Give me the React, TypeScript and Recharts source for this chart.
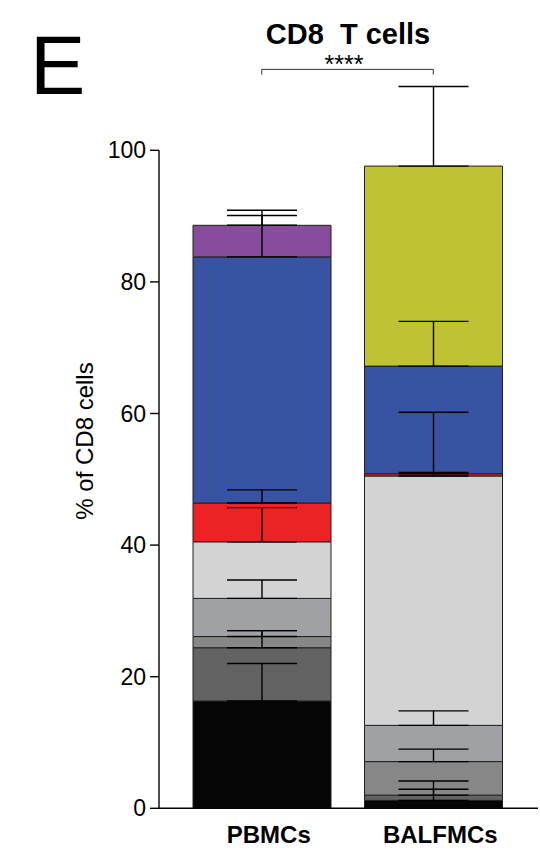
import React from 'react';
import { BarChart, Bar, XAxis, YAxis, ErrorBar, ReferenceLine } from 'recharts';

const categories = ['PBMCs', 'BALFMCs'];
const yTicks = [0, 20, 40, 60, 80, 100];

// segment heights (% of CD8 cells), bottom to top
const blackPct = [16.3, 1.2];
const darkGrayPct = [8.1, 0.8];
const midGrayPct = [1.7, 5.1];
const grayPct = [5.8, 5.5];
const lightGrayPct = [8.6, 37.9];
const redPct = [5.9, 0.35];
const bluePct = [37.4, 16.35];
const purplePct = [4.8, 0];
const olivePct = [0, 30.4];

// upper error (SD) of each segment
const blackSd = [5.7, 1.7];
const darkGraySd = [2.6, 2.15];
const midGraySd = [0.9, 1.9];
const graySd = [2.8, 2.2];
const lightGraySd = [5.2, 9.7];
const redSd = [2.0, 0.2];
const blueSd = [6.3, 6.8];
const purpleSd = [2.3, 0.3];
const oliveSd = [0, 12.1];

const series = [
  { key: 'black', color: '#050505', values: blackPct, sd: blackSd },
  { key: 'darkGray', color: '#636363', values: darkGrayPct, sd: darkGraySd },
  { key: 'midGray', color: '#878787', values: midGrayPct, sd: midGraySd },
  { key: 'gray', color: '#a0a1a4', values: grayPct, sd: graySd },
  { key: 'lightGray', color: '#d3d3d3', values: lightGrayPct, sd: lightGraySd },
  { key: 'red', color: '#ed2224', values: redPct, sd: redSd },
  { key: 'blue', color: '#3853a2', values: bluePct, sd: blueSd },
  { key: 'purple', color: '#874c9b', values: purplePct, sd: purpleSd },
  { key: 'olive', color: '#bfc232', values: olivePct, sd: oliveSd },
];

const chartData = categories.map((name, i) => {
  const row: { [k: string]: any } = { name };
  series.forEach(s => {
    row[s.key] = s.values[i];
    row[s.key + 'Err'] = [0, s.sd[i]];
  });
  return row;
});

const FONT = '"Liberation Sans", Arial, sans-serif';

const XTick = (props: any) => {
  const { x, y, payload } = props;
  return (
    <text x={x + 7} y={y} dy="0.71em" textAnchor="middle" fontFamily={FONT} fontSize={24} fontWeight="bold" fill="#000">
      {payload.value}
    </text>
  );
};

export default function App() {
  return (
    <div style={{ position: 'absolute', left: 0, top: 0, width: 540, height: 856, background: '#fff' }}>
      <BarChart
        width={540}
        height={856}
        data={chartData}
        margin={{ top: 18.7, right: 2, bottom: 17.7, left: 0 }}
        barCategoryGap={0}
      >
        <XAxis
          dataKey="name"
          height={30}
          padding={{ left: 17, right: 19 }}
          axisLine={{ stroke: '#000', strokeWidth: 1.4 }}
          tickLine={false}
          tickSize={0}
          tickMargin={18}
          tick={<XTick />}
        />
        <XAxis xAxisId="edge" type="number" domain={[0, 1]} hide />
        <YAxis
          width={159}
          domain={[0, 120]}
          ticks={yTicks}
          axisLine={false}
          tickLine={{ stroke: '#000', strokeWidth: 1.4 }}
          tickSize={9}
          tickMargin={4}
          tick={{ fill: '#000', fontSize: 23, fontFamily: FONT }}
        />
        {series.map(s => (
          <Bar
            key={s.key}
            dataKey={s.key}
            stackId="a"
            fill={s.color}
            stroke="#231f20"
            strokeWidth={1}
            barSize={138}
            isAnimationActive={false}
          >
            <ErrorBar dataKey={s.key + 'Err'} width={35} stroke="#000" strokeWidth={1.4} direction="y" />
          </Bar>
        ))}
        <ReferenceLine
          xAxisId="edge"
          segment={[{ x: 0, y: 0 }, { x: 0, y: 100 }]}
          stroke="#000"
          strokeWidth={1.4}
        />
        <ReferenceLine segment={[{ x: 'PBMCs', y: 112.3 }, { x: 'BALFMCs', y: 112.3 }]} stroke="#333" strokeWidth={1} />
        <ReferenceLine segment={[{ x: 'PBMCs', y: 112.3 }, { x: 'PBMCs', y: 111.5 }]} stroke="#333" strokeWidth={1} />
        <ReferenceLine segment={[{ x: 'BALFMCs', y: 112.3 }, { x: 'BALFMCs', y: 111.5 }]} stroke="#333" strokeWidth={1} />
      </BarChart>
      <svg width={540} height={856} style={{ position: 'absolute', left: 0, top: 0, pointerEvents: 'none' }}>
        <text x={30} y={94} fontFamily={FONT} fontSize={83} fill="#000">E</text>
        <text x={348} y={44} textAnchor="middle" fontFamily={FONT} fontSize={29} fontWeight="bold" fill="#000" style={{ whiteSpace: 'pre' }}>
          CD8  T cells
        </text>
        <text x={344} y={73} textAnchor="middle" fontFamily={FONT} fontSize={25} fill="#000">****</text>
        <text x={93} y={441} transform="rotate(-90 93 441)" textAnchor="middle" fontFamily={FONT} fontSize={24} fill="#000">
          % of CD8 cells
        </text>
      </svg>
    </div>
  );
}
